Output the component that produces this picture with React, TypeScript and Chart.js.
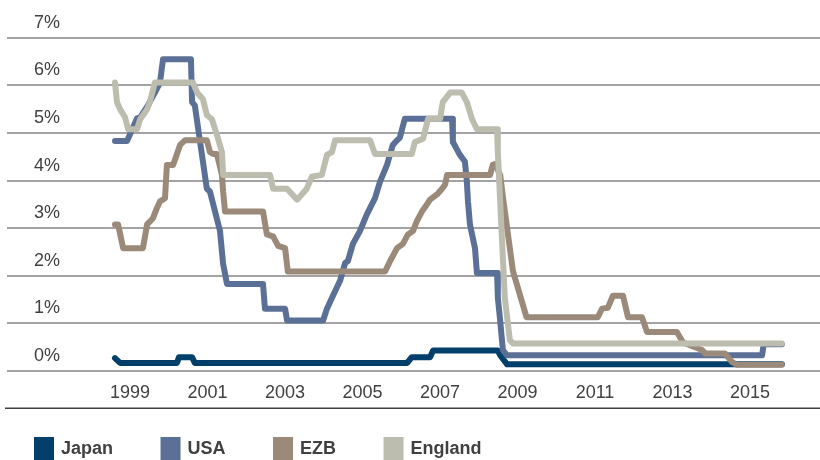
import React, { useEffect, useRef } from 'react';
import { Chart, registerables } from 'chart.js';

Chart.register(...registerables);

const seriesNames = ['Japan', 'USA', 'EZB', 'England'];
const seriesColors = ['#033f6b', '#5b7096', '#9b8a7a', '#bdbdaf'];
const tickYears = [1999, 2001, 2003, 2005, 2007, 2009, 2011, 2013, 2015];
const yTickValues = [0, 1, 2, 3, 4, 5, 6, 7];

const japanYears = [1999.0, 1999.13, 2000.6, 2000.65, 2000.99, 2001.06, 2006.54, 2006.66, 2007.13, 2007.21, 2008.88, 2008.94, 2009.12, 2016.21];
const japanRates = [0.27, 0.17, 0.17, 0.29, 0.29, 0.17, 0.17, 0.29, 0.29, 0.43, 0.43, 0.33, 0.14, 0.14];

const usaYears = [1999.0, 1999.31, 1999.57, 1999.65, 1999.85, 2000.03, 2000.16, 2000.24, 2000.96, 2000.99, 2001.06, 2001.37, 2001.45, 2001.71, 2001.79, 2001.89, 2002.82, 2002.87, 2003.39, 2003.44, 2004.37, 2004.47, 2004.6, 2004.81, 2004.94, 2005.01, 2005.14, 2005.32, 2005.5, 2005.71, 2005.84, 2006.02, 2006.17, 2006.28, 2006.35, 2006.48, 2007.7, 2007.72, 2007.9, 2008.03, 2008.08, 2008.11, 2008.16, 2008.29, 2008.34, 2008.86, 2008.88, 2008.94, 2009.01, 2009.12, 2015.7, 2015.74, 2016.21];
const usaRates = [4.83, 4.83, 5.31, 5.33, 5.58, 5.85, 6.06, 6.55, 6.55, 5.65, 5.58, 3.83, 3.77, 2.94, 2.25, 1.83, 1.83, 1.31, 1.31, 1.06, 1.06, 1.31, 1.54, 1.9, 2.27, 2.31, 2.67, 2.94, 3.29, 3.63, 3.98, 4.33, 4.75, 4.85, 4.9, 5.3, 5.3, 4.81, 4.54, 4.4, 3.98, 3.56, 3.08, 2.58, 2.06, 2.06, 1.54, 1.06, 0.44, 0.33, 0.33, 0.56, 0.56];

const ezbYears = [1999.0, 1999.08, 1999.21, 1999.72, 1999.83, 1999.98, 2000.08, 2000.16, 2000.29, 2000.34, 2000.5, 2000.68, 2000.81, 2001.37, 2001.45, 2001.53, 2001.63, 2001.76, 2001.79, 2001.84, 2002.82, 2002.92, 2003.08, 2003.21, 2003.39, 2003.46, 2005.97, 2006.1, 2006.28, 2006.43, 2006.56, 2006.69, 2006.79, 2006.92, 2007.05, 2007.13, 2007.31, 2007.44, 2007.52, 2007.57, 2008.68, 2008.75, 2008.81, 2008.94, 2009.02, 2009.27, 2009.45, 2009.62, 2011.46, 2011.57, 2011.72, 2011.85, 2012.11, 2012.24, 2012.6, 2012.73, 2013.5, 2013.66, 2014.15, 2014.23, 2014.74, 2014.92, 2015.05, 2016.21];
const ezbRates = [3.08, 3.08, 2.58, 2.58, 3.08, 3.21, 3.42, 3.56, 3.63, 4.33, 4.33, 4.75, 4.85, 4.85, 4.6, 4.56, 4.56, 4.12, 3.77, 3.35, 3.35, 2.87, 2.83, 2.63, 2.58, 2.09, 2.09, 2.31, 2.58, 2.67, 2.87, 2.94, 3.15, 3.35, 3.5, 3.6, 3.71, 3.83, 3.92, 4.12, 4.12, 4.33, 4.35, 4.12, 3.6, 2.1, 1.6, 1.13, 1.13, 1.31, 1.33, 1.58, 1.58, 1.13, 1.13, 0.82, 0.82, 0.6, 0.44, 0.37, 0.37, 0.19, 0.13, 0.13];

const englandYears = [1999.0, 1999.05, 1999.13, 1999.26, 1999.34, 1999.57, 1999.65, 1999.83, 1999.9, 2000.03, 2001.01, 2001.12, 2001.27, 2001.37, 2001.5, 2001.63, 2001.76, 2001.79, 2003.0, 2003.08, 2003.44, 2003.7, 2003.95, 2004.08, 2004.34, 2004.47, 2004.6, 2004.68, 2005.58, 2005.71, 2006.66, 2006.74, 2006.95, 2007.08, 2007.39, 2007.46, 2007.65, 2007.95, 2008.08, 2008.21, 2008.34, 2008.86, 2008.88, 2008.94, 2009.06, 2009.19, 2009.27, 2016.21];
const englandRates = [6.06, 5.65, 5.5, 5.33, 5.08, 5.08, 5.29, 5.5, 5.65, 6.06, 6.06, 5.85, 5.71, 5.38, 5.29, 4.96, 4.6, 4.12, 4.12, 3.83, 3.83, 3.6, 3.83, 4.08, 4.12, 4.54, 4.6, 4.85, 4.85, 4.56, 4.56, 4.81, 4.88, 5.3, 5.3, 5.65, 5.85, 5.85, 5.65, 5.3, 5.08, 5.08, 4.6, 3.56, 1.54, 0.65, 0.58, 0.58];

const seriesYears = [japanYears, usaYears, ezbYears, englandYears];
const seriesRates = [japanRates, usaRates, ezbRates, englandRates];
const drawOrder = [3, 2, 1, 0];

const FONT = '"Liberation Sans", Arial, sans-serif';
const TEXT = '#404040';

const extrasPlugin = {
  id: 'extras',
  afterDraw(chart: any) {
    const ctx = chart.ctx;
    const ca = chart.chartArea;
    ctx.save();
    // base line under the year labels
    ctx.strokeStyle = '#404040';
    ctx.lineWidth = 1.5;
    ctx.beginPath();
    ctx.moveTo(5, Math.round(ca.bottom + 37) + 0.25);
    ctx.lineTo(chart.width, Math.round(ca.bottom + 37) + 0.25);
    ctx.stroke();
    // legend
    ctx.font = 'bold 18px ' + FONT;
    ctx.textBaseline = 'alphabetic';
    ctx.textAlign = 'left';
    let x = 34;
    chart.data.datasets.forEach((ds: any) => {
      ctx.fillStyle = ds.borderColor;
      ctx.fillRect(x, 437, 20, 26);
      ctx.fillStyle = TEXT;
      ctx.fillText(ds.label, x + 27, 454);
      x += 27 + ctx.measureText(ds.label).width + 47.5;
    });
    ctx.restore();
  },
};

export default function App() {
  const ref = useRef<HTMLCanvasElement | null>(null);
  useEffect(() => {
    if (!ref.current) return;
    const datasets = seriesNames.map((name, i) => ({
      label: name,
      data: seriesYears[i].map((yr, j) => ({ x: yr, y: seriesRates[i][j] })),
      borderColor: seriesColors[i],
      backgroundColor: seriesColors[i],
      borderWidth: 6,
      borderCapStyle: 'round' as const,
      borderJoinStyle: 'round' as const,
      pointRadius: 0,
      tension: 0,
      fill: false,
      order: drawOrder[i],
    }));
    const chart = new Chart(ref.current, {
      type: 'line',
      data: { datasets },
      plugins: [extrasPlugin],
      options: {
        responsive: false,
        animation: false,
        layout: { padding: { left: 7, right: 0, top: 35, bottom: 45.4 } },
        plugins: { legend: { display: false }, tooltip: { enabled: false } },
        scales: {
          x: {
            type: 'linear',
            min: 1996.213,
            max: 2017.194,
            grid: { display: false, drawTicks: false },
            border: { display: false },
            afterBuildTicks: (scale: any) => {
              scale.ticks = tickYears.map((v) => ({ value: v }));
            },
            ticks: {
              autoSkip: false,
              maxRotation: 0,
              padding: 11,
              labelOffset: 15,
              color: TEXT,
              font: { family: FONT, size: 18 },
              callback: (v: any) => String(v),
            },
          },
          y: {
            min: 0,
            max: 7,
            afterBuildTicks: (scale: any) => {
              scale.ticks = yTickValues.map((v) => ({ value: v }));
            },
            afterFit: (scale: any) => {
              scale.width = 0;
            },
            grid: { color: '#a3a3a3', lineWidth: 2, drawTicks: false },
            border: { display: false },
            ticks: {
              mirror: true,
              padding: 27,
              labelOffset: -15,
              color: TEXT,
              font: { family: FONT, size: 18 },
              callback: (v: any) => v + '%',
            },
          },
        },
      },
    });
    return () => chart.destroy();
  }, []);
  return (
    <div style={{ position: 'absolute', left: 0, top: 0, width: 820, height: 460 }}>
      <canvas ref={ref} width={820} height={460} />
    </div>
  );
}
